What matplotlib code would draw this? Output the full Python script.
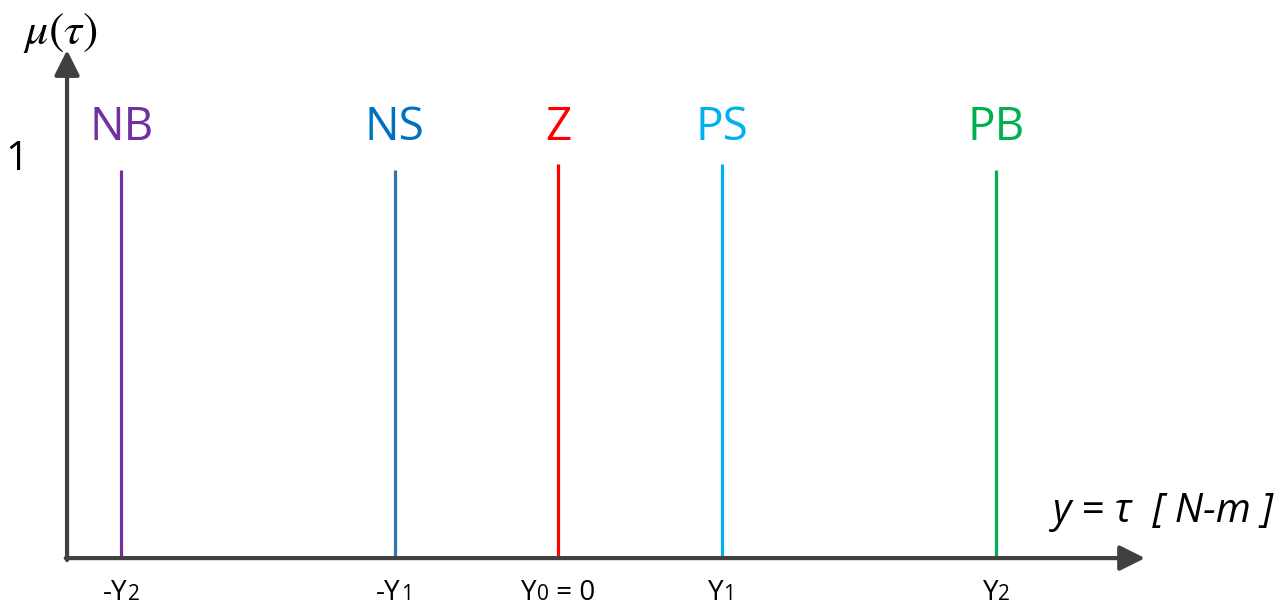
import matplotlib.pyplot as plt
from matplotlib.offsetbox import TextArea, HPacker, AnnotationBbox

# fuzzy sets of the output torque (singletons)
labels = ['NB', 'NS', 'Z', 'PS', 'PB']
centers = [-2.67, -1.0, 0.0, 1.0, 2.68]
heights = [1.0, 1.0, 1.015, 1.015, 1.0]
text_colors = ['#7030A0', '#0070C0', '#FF0000', '#00B0F0', '#00B050']
line_colors = ['#7030A0', '#2E75B6', '#FF0000', '#00B0F0', '#00B050']

tick_main = ['-Y', '-Y', 'Y', 'Y', 'Y']
tick_sub = ['2', '1', '0', '1', '2']
tick_tail = ['', '', ' = 0', '', '']

axis_color = '#404040'
font = 'Open Sans'

fig = plt.figure(figsize=(12.84, 6.14), dpi=100)
ax = fig.add_axes([0, 0, 1, 1])
ax.set_xlim(-3.413, 4.440)
ax.set_ylim(-0.144, 1.438)
ax.axis('off')

x0, y0 = -3.003, 0.0
arrow = dict(arrowstyle='-|>', color=axis_color, lw=3, shrinkA=0, shrinkB=0,
             mutation_scale=38)
ax.annotate('', xy=(3.59, y0), xytext=(x0 - 0.008, y0), arrowprops=arrow)
ax.annotate('', xy=(x0, 1.309), xytext=(x0, y0 - 0.005), arrowprops=arrow)

for lab, xc, h, tc, lc in zip(labels, centers, heights, text_colors, line_colors):
    ax.plot([xc, xc], [0, h], color=lc, lw=2.3, solid_capstyle='butt')
    ax.text(xc, 1.108, lab, color=tc, fontsize=33, family=font,
            ha='center', va='center')

for xc, m, s, t in zip(centers, tick_main, tick_sub, tick_tail):
    parts = [TextArea(m, textprops=dict(size=20, family=font, color='black')),
             TextArea(s, textprops=dict(size=15, family=font, color='black'))]
    if t:
        parts.append(TextArea(t, textprops=dict(size=20, family=font, color='black')))
    box = HPacker(children=parts, align='baseline', pad=0, sep=0)
    ab = AnnotationBbox(box, (xc, -0.09), frameon=False, box_alignment=(0.5, 0.5))
    ax.add_artist(ab)

ax.text(-3.309, 1.026, '1', fontsize=29, family=font, ha='center', va='center')
ax.text(-3.046, 1.353, r'$\mu(\tau)$', fontsize=33, ha='center', va='center',
        math_fontfamily='stix')
ax.text(4.38, 0.12, 'y = τ  [ N-m ]', fontsize=29, family=font,
        style='italic', ha='right', va='center')

fig.savefig('out.png', dpi=100)
